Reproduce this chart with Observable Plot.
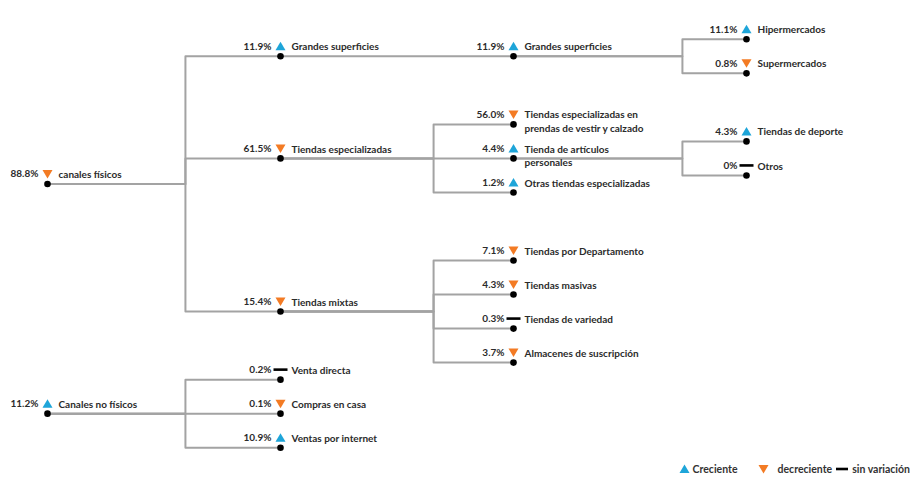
<!DOCTYPE html>
<html>
<head>
<meta charset="utf-8">
<script src="https://cdn.jsdelivr.net/npm/d3@7"></script>
<script src="https://cdn.jsdelivr.net/npm/@observablehq/plot@0.6"></script>
<style>
  html, body { margin: 0; padding: 0; background: #fff; }
  body { width: 914px; font-family: Lato, "Open Sans", sans-serif; }
  #legend { height: 17px; display: flex; justify-content: flex-end; align-items: center;
            font-size: 10.5px; font-weight: bold; color: #333; padding-right: 4px; }
  #legend .item { display: flex; align-items: center; }
  #legend .i0 svg { margin-right: 3px; }
  #legend .i1 { margin-left: 20px; }
  #legend .i1 svg { margin-right: 9px; }
  #legend .i2 { margin-left: 4px; }
  #legend .i2 svg { margin-right: 4px; }
</style>
</head>
<body>
<div id="chart"></div>
<div id="legend"></div>
<script>
// ---- data ----
const names = [
  "canales físicos", "Grandes superficies", "Tiendas especializadas", "Tiendas mixtas",
  "Grandes superficies", "Hipermercados", "Supermercados",
  "Tiendas especializadas en\nprendas de vestir y calzado", "Tienda de artículos\npersonales",
  "Otras tiendas especializadas", "Tiendas de deporte", "Otros",
  "Tiendas por Departamento", "Tiendas masivas", "Tiendas de variedad", "Almacenes de suscripción",
  "Canales no físicos", "Venta directa", "Compras en casa", "Ventas por internet"
];
const values = ["88.8%", "11.9%", "61.5%", "15.4%", "11.9%", "11.1%", "0.8%", "56.0%", "4.4%", "1.2%",
  "4.3%", "0%", "7.1%", "4.3%", "0.3%", "3.7%", "11.2%", "0.2%", "0.1%", "10.9%"];
// trend: "up" = creciente, "down" = decreciente, "flat" = sin variación
const trends = ["down", "up", "down", "down", "up", "up", "down", "down", "up", "up",
  "up", "flat", "down", "down", "flat", "down", "up", "flat", "down", "up"];
const parents = [-1, 0, 0, 0, 1, 4, 4, 2, 2, 2, 8, 8, 3, 3, 3, 3, -1, 16, 16, 16];
const depths = [0, 1, 1, 1, 2, 3, 3, 2, 2, 2, 3, 3, 2, 2, 2, 2, 0, 1, 1, 1];
const rows = [8.5, 1, 7, 16, 1, 0, 2, 5, 7, 9, 6, 8, 13, 15, 17, 19, 22, 20, 22, 24];
const legendLabels = {up: "Creciente", down: "decreciente", flat: "sin variación"};

// layout: where the branching bracket of each depth level sits (in depth units)
const junction = [0.592, 1.657, 2.725];

// ---- build tables ----
const nodes = names.map((name, i) => ({
  name, value: values[i], trend: trends[i], depth: depths[i], row: rows[i]
}));
const elbows = [];
nodes.forEach((n, i) => {
  const p = parents[i];
  if (p < 0) return;
  const par = nodes[p];
  const bx = junction[par.depth];
  elbows.push({e: i, x: par.depth, y: par.row});
  elbows.push({e: i, x: bx, y: par.row});
  elbows.push({e: i, x: bx, y: n.row});
  elbows.push({e: i, x: n.depth, y: n.row});
});

const BLUE = "#1ea5d9", ORANGE = "#f37b24";
const symUp = {draw(c) { c.moveTo(0, -4.5); c.lineTo(5, 4); c.lineTo(-5, 4); c.closePath(); }};
const symDown = {draw(c) { c.moveTo(-5, -4); c.lineTo(5, -4); c.lineTo(0, 4.5); c.closePath(); }};
const symFlat = {draw(c) { c.rect(-7, -1.3, 14, 2.6); }};

const font = {fontFamily: "Lato, 'Open Sans', sans-serif", fontSize: 10, fontWeight: "bold", fill: "#2b2b2b"};

const chart = Plot.plot({
  width: 914,
  height: 460,
  margin: 0,
  x: {domain: [0, 3], range: [47, 746], axis: null},
  y: {domain: [0, 24], range: [38.8, 447.2], axis: null},
  marks: [
    Plot.line(elbows, {x: "x", y: "y", z: "e", stroke: "#a3a3a3", strokeWidth: 2, curve: "linear"}),
    Plot.dot(nodes, {x: "depth", y: "row", r: 3.3, fill: "#000", stroke: "none"}),
    Plot.dot(nodes.filter(d => d.trend === "up"), {x: "depth", y: "row", dy: -10, symbol: symUp, fill: BLUE, stroke: "none"}),
    Plot.dot(nodes.filter(d => d.trend === "down"), {x: "depth", y: "row", dy: -10, symbol: symDown, fill: ORANGE, stroke: "none"}),
    Plot.dot(nodes.filter(d => d.trend === "flat"), {x: "depth", y: "row", dy: -10, symbol: symFlat, fill: "#000", stroke: "none"}),
    Plot.text(nodes, {x: "depth", y: "row", text: "value", dx: -9, dy: -10, textAnchor: "end", ...font}),
    Plot.text(nodes, {x: "depth", y: "row", text: "name", dx: 11, dy: -15.5, textAnchor: "start", lineAnchor: "top", lineHeight: 1.35, ...font})
  ]
});
document.getElementById("chart").appendChild(chart);

// ---- legend ----
const legend = document.getElementById("legend");
const legendSym = {
  up: `<svg width="11" height="10"><path d="M5.5,0.5L10.5,9L0.5,9Z" fill="${BLUE}"/></svg>`,
  down: `<svg width="11" height="10"><path d="M0.5,1L10.5,1L5.5,9.5Z" fill="${ORANGE}"/></svg>`,
  flat: `<svg width="12" height="10"><rect x="0" y="3.7" width="12" height="2.6" fill="#000"/></svg>`
};
Object.entries(legendLabels).forEach(([k, label], i) => {
  const it = document.createElement("div");
  it.className = "item i" + i;
  it.innerHTML = legendSym[k] + `<span>${label}</span>`;
  legend.appendChild(it);
});
</script>
</body>
</html>
